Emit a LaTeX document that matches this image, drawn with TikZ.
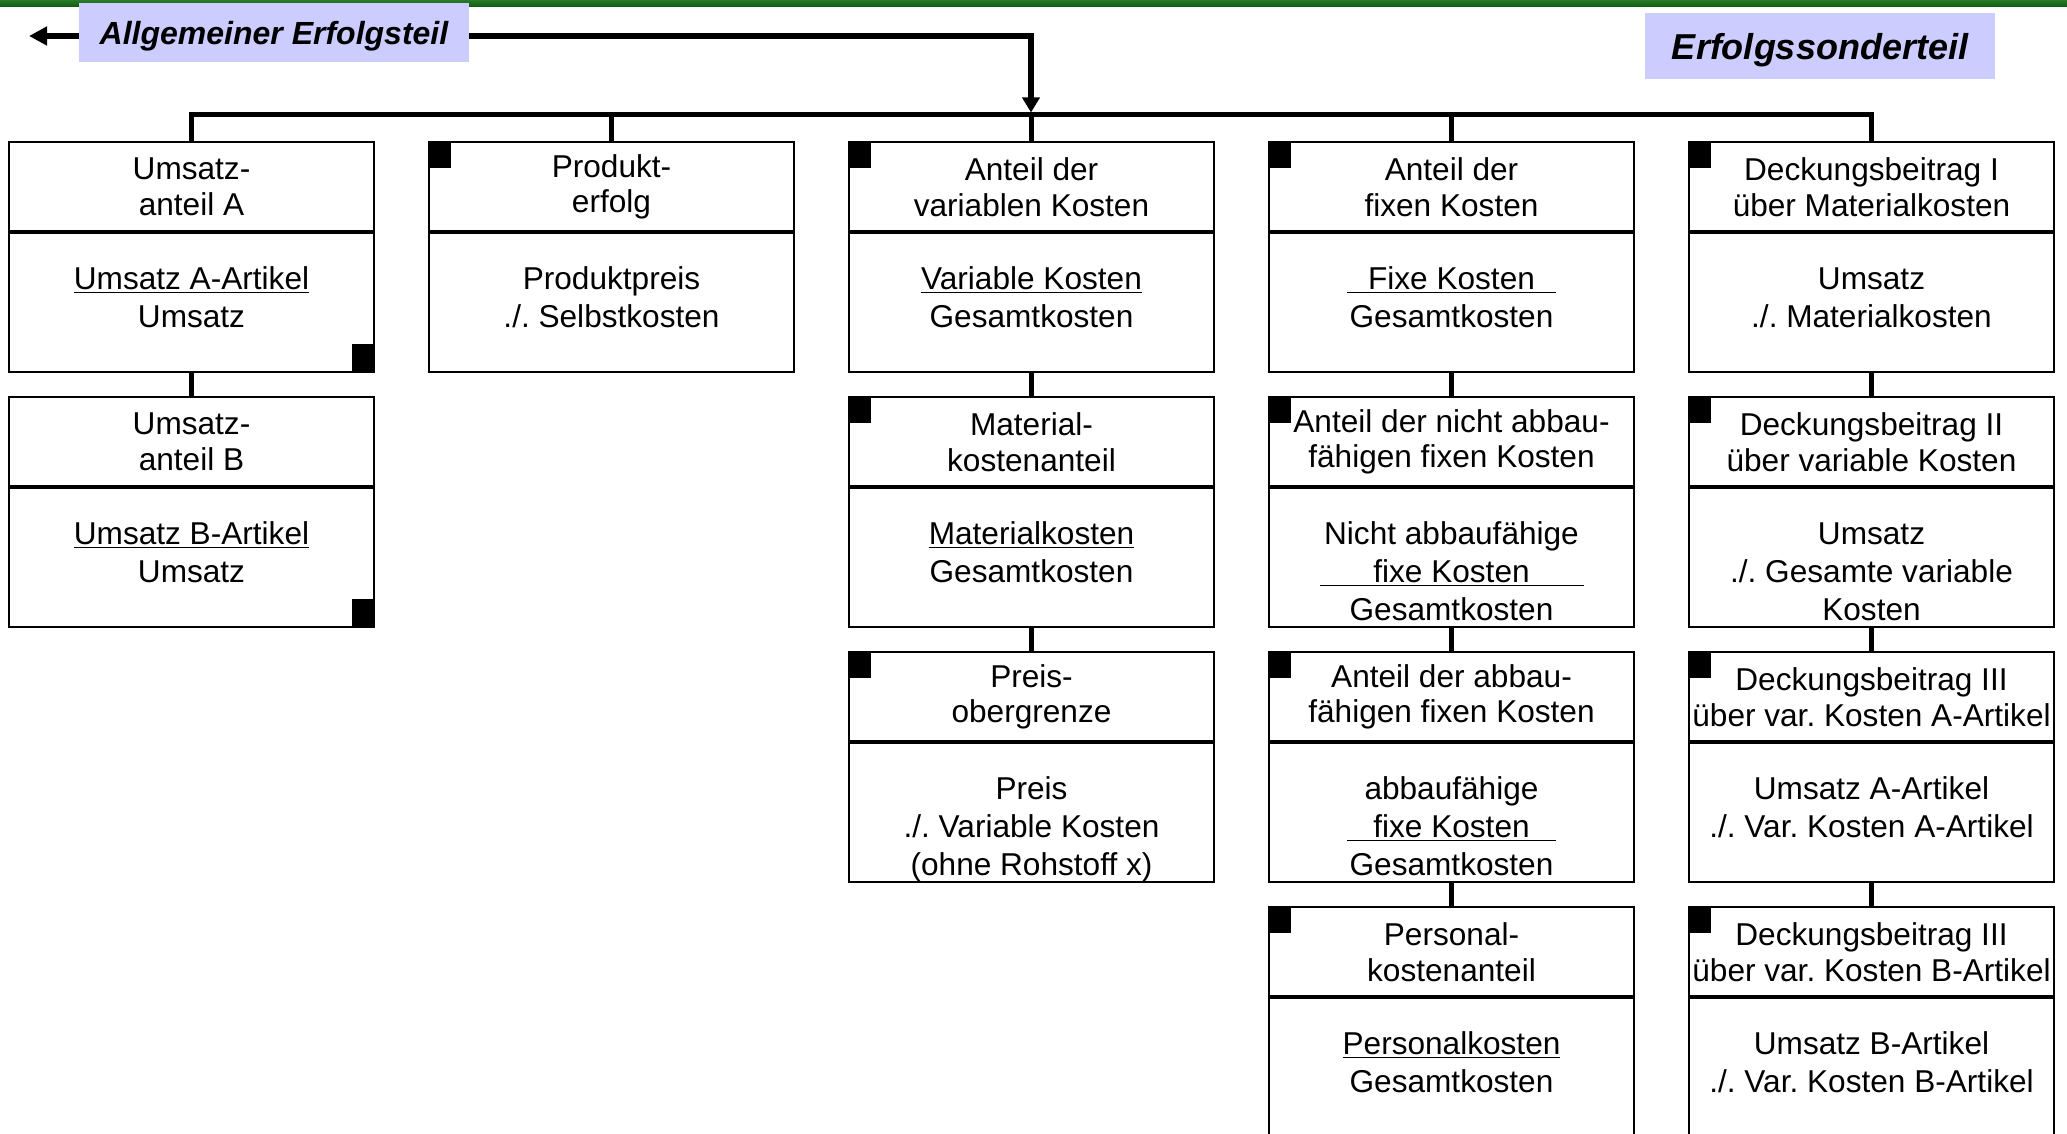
\documentclass[tikz,border=0pt]{standalone}
\usepackage{fontspec}
\setmainfont{Liberation Sans}
\usepackage{tikz}
\usetikzlibrary{arrows.meta,positioning}
\definecolor{Titel}{HTML}{CCCCFF}
\definecolor{Balken}{HTML}{2A7A2A}
\definecolor{BalkenDunkel}{HTML}{0F5A0F}
\frenchspacing

\newcommand{\inhalt}[1]{\parbox[c][70pt][t]{182.5pt}{\centering\rule{0pt}{28.7pt}#1}}

\begin{document}
\begin{tikzpicture}[x=0.5pt, y=-0.5pt,
  every node/.style={font=\fontsize{15.8}{17.8}\selectfont, inner sep=0pt, outer sep=0pt},
  head/.style={draw, line width=1pt, minimum width=182.5pt, minimum height=45pt,
               align=center, anchor=north west},
  body/.style={draw, line width=1pt, minimum width=182.5pt, minimum height=70pt,
               below=0pt of #1, font=\fontsize{15.8}{19.1}\selectfont},
  titel/.style={fill=Titel, anchor=north west, text depth=0pt},
  link/.style={line width=2.5pt}]
  \path[use as bounding box, clip] (0,0) rectangle (2067,1134);
  \shade[top color=Balken, bottom color=BalkenDunkel] (0,0) rectangle (2067,7);

  % Titel
  \node[titel, minimum width=195pt, minimum height=29.5pt,
        font=\fontsize{16}{19}\selectfont\bfseries\itshape] (allg) at (79,3)
    {Allgemeiner Erfolgsteil};
  \node[titel, minimum width=175pt, minimum height=33pt,
        font=\fontsize{18}{21}\selectfont\bfseries\itshape] (sonder) at (1645,13)
    {Erfolgssonderteil};

  % Spalte 1
  \node[head] (ua-h) at (9,142) {Umsatz-\\anteil A};
  \node[body=ua-h] (ua-b) {\inhalt{\underline{Umsatz A-Artikel}\\Umsatz}};
  \node[head] (ub-h) at (9,397) {Umsatz-\\anteil B};
  \node[body=ub-h] (ub-b) {\inhalt{\underline{Umsatz B-Artikel}\\Umsatz}};
  % Spalte 2
  \node[head] (pe-h) at (429,142) {Produkt-\\erfolg};
  \node[body=pe-h] (pe-b) {\inhalt{Produktpreis\\./. Selbstkosten}};
  % Spalte 3
  \node[head] (vk-h) at (849,142) {Anteil der\\variablen Kosten};
  \node[body=vk-h] (vk-b) {\inhalt{\underline{Variable Kosten}\\Gesamtkosten}};
  \node[head] (mk-h) at (849,397) {Material-\\kostenanteil};
  \node[body=mk-h] (mk-b) {\inhalt{\underline{Materialkosten}\\Gesamtkosten}};
  \node[head] (pog-h) at (849,652) {Preis-\\obergrenze};
  \node[body=pog-h] (pog-b) {\inhalt{Preis\\./. Variable Kosten\\(ohne Rohstoff x)}};
  % Spalte 4
  \node[head] (fk-h) at (1269,142) {Anteil der\\fixen Kosten};
  \node[body=fk-h] (fk-b) {\inhalt{\underline{\makebox[104.5pt]{Fixe Kosten}}\\Gesamtkosten}};
  \node[head] (nfk-h) at (1269,397) {Anteil der nicht abbau-\\fähigen fixen Kosten};
  \node[body=nfk-h] (nfk-b) {\inhalt{Nicht abbaufähige\\\underline{\makebox[132pt]{fixe Kosten}}\\Gesamtkosten}};
  \node[head] (afk-h) at (1269,652) {Anteil der abbau-\\fähigen fixen Kosten};
  \node[body=afk-h] (afk-b) {\inhalt{abbaufähige\\\underline{\makebox[104.5pt]{fixe Kosten}}\\Gesamtkosten}};
  \node[head] (pk-h) at (1269,907) {Personal-\\kostenanteil};
  \node[body=pk-h] (pk-b) {\inhalt{\underline{Personalkosten}\\Gesamtkosten}};
  % Spalte 5
  \node[head] (db1-h) at (1689,142) {Deckungsbeitrag I\\über Materialkosten};
  \node[body=db1-h] (db1-b) {\inhalt{Umsatz\\./. Materialkosten}};
  \node[head] (db2-h) at (1689,397) {Deckungsbeitrag II\\über variable Kosten};
  \node[body=db2-h] (db2-b) {\inhalt{Umsatz\\./. Gesamte variable\\Kosten}};
  \node[head] (db3a-h) at (1689,652) {Deckungsbeitrag III\\über var. Kosten A-Artikel};
  \node[body=db3a-h] (db3a-b) {\inhalt{Umsatz A-Artikel\\./. Var. Kosten A-Artikel}};
  \node[head] (db3b-h) at (1689,907) {Deckungsbeitrag III\\über var. Kosten B-Artikel};
  \node[body=db3b-h] (db3b-b) {\inhalt{Umsatz B-Artikel\\./. Var. Kosten B-Artikel}};

  % Trennlinien und Eckmarken
  \foreach \n in {ua,ub,pe,vk,mk,pog,fk,nfk,afk,pk,db1,db2,db3a,db3b}
    \draw[line width=1.6pt] (\n-h.south west) -- (\n-h.south east);
  \foreach \n in {pe,vk,mk,pog,fk,nfk,afk,pk,db1,db2,db3a,db3b}
    \fill (\n-h.north west) rectangle ++(22,26);
  \foreach \n in {ua,ub}
    \fill (\n-b.south east) rectangle ++(-22,-28);

  % Verbindungen
  \coordinate (bus) at (1031,115);
  \coordinate (links) at (29,36);
  \draw[link] (ua-h.north) |- (bus) -| (db1-h.north);
  \foreach \n in {pe,vk,fk}
    \draw[link] (\n-h.north) -- (\n-h.north |- bus);
  \foreach \a/\b in {ua/ub,vk/mk,mk/pog,fk/nfk,nfk/afk,afk/pk,db1/db2,db2/db3a,db3a/db3b}
    \draw[link] (\a-b.south) -- (\b-h.north);
  \draw[line width=3pt, shorten >=1.25pt, -{Triangle[length=7.5pt,width=8.5pt]}]
    ([yshift=-1.75pt]allg.east) -| (bus);
  \draw[line width=3pt, -{Triangle[length=9pt,width=9pt]}]
    ([yshift=-1.75pt]allg.west) -- (links);
\end{tikzpicture}
\end{document}
